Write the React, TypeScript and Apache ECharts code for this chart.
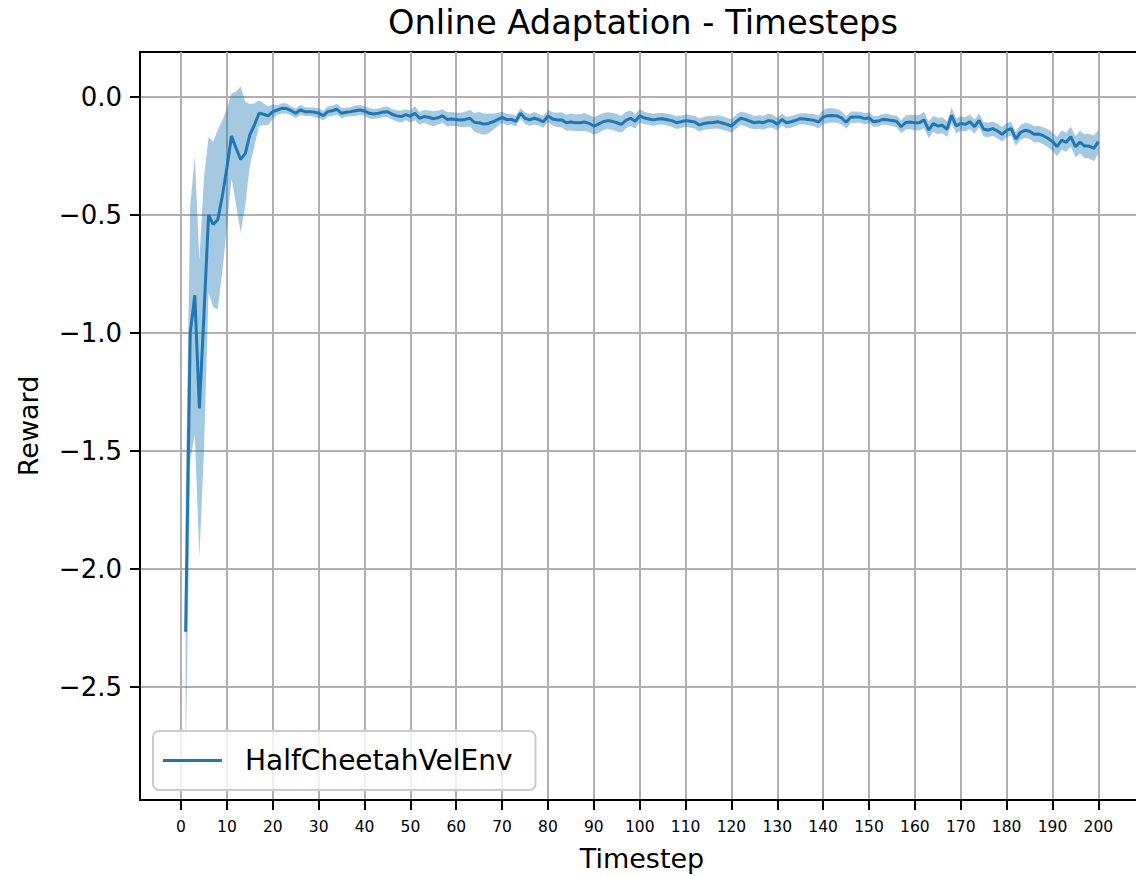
import React, { useEffect, useRef } from "react";
import * as echarts from "echarts";

// Timesteps 1..200
const TIMESTEPS: number[] = Array.from({ length: 200 }, (_, i) => i + 1);

const MEAN_REWARD: number[] = [
  -2.266, -1.0, -0.84, -1.32, -0.92, -0.5, -0.54, -0.52, -0.42, -0.3,
  -0.165, -0.217, -0.264, -0.24, -0.16, -0.118, -0.069, -0.073, -0.08, -0.062,
  -0.055, -0.048, -0.049, -0.058, -0.069, -0.055, -0.062, -0.062, -0.064, -0.069,
  -0.079, -0.062, -0.058, -0.052, -0.069, -0.065, -0.062, -0.058, -0.055, -0.059,
  -0.069, -0.072, -0.069, -0.064, -0.062, -0.073, -0.08, -0.083, -0.075, -0.082,
  -0.069, -0.09, -0.083, -0.086, -0.092, -0.088, -0.08, -0.095, -0.093, -0.095,
  -0.097, -0.095, -0.09, -0.108, -0.109, -0.115, -0.112, -0.105, -0.096, -0.086,
  -0.096, -0.095, -0.103, -0.069, -0.09, -0.097, -0.09, -0.096, -0.105, -0.08,
  -0.093, -0.097, -0.097, -0.109, -0.106, -0.109, -0.109, -0.106, -0.112, -0.123,
  -0.115, -0.105, -0.1, -0.103, -0.109, -0.116, -0.099, -0.09, -0.103, -0.08,
  -0.089, -0.093, -0.097, -0.093, -0.092, -0.096, -0.1, -0.109, -0.105, -0.1,
  -0.103, -0.106, -0.119, -0.112, -0.109, -0.108, -0.105, -0.11, -0.116, -0.123,
  -0.105, -0.09, -0.095, -0.102, -0.109, -0.106, -0.109, -0.1, -0.103, -0.115,
  -0.095, -0.109, -0.105, -0.099, -0.092, -0.093, -0.096, -0.099, -0.106, -0.085,
  -0.079, -0.078, -0.08, -0.088, -0.107, -0.086, -0.085, -0.085, -0.092, -0.088,
  -0.105, -0.102, -0.095, -0.096, -0.1, -0.103, -0.126, -0.108, -0.106, -0.109,
  -0.109, -0.097, -0.14, -0.113, -0.123, -0.12, -0.137, -0.078, -0.123, -0.111,
  -0.116, -0.105, -0.126, -0.099, -0.137, -0.14, -0.134, -0.144, -0.158, -0.141,
  -0.134, -0.178, -0.151, -0.141, -0.145, -0.158, -0.157, -0.164, -0.175, -0.189,
  -0.21, -0.183, -0.192, -0.168, -0.21, -0.191, -0.208, -0.208, -0.218, -0.189,
];

const REWARD_SPREAD: number[] = [
  0.57, 0.54, 0.59, 0.63, 0.58, 0.33, 0.35, 0.38, 0.32, 0.25,
  0.18, 0.24, 0.31, 0.22, 0.13, 0.09, 0.055, 0.045, 0.04, 0.03,
  0.02, 0.022, 0.021, 0.019, 0.02, 0.021, 0.019, 0.018, 0.02, 0.021,
  0.02, 0.022, 0.021, 0.023, 0.021, 0.019, 0.02, 0.022, 0.021, 0.02,
  0.022, 0.021, 0.02, 0.022, 0.023, 0.022, 0.024, 0.025, 0.023, 0.025,
  0.03, 0.028, 0.027, 0.03, 0.032, 0.03, 0.028, 0.03, 0.029, 0.028,
  0.03, 0.032, 0.035, 0.04, 0.045, 0.045, 0.042, 0.035, 0.028, 0.024,
  0.024, 0.022, 0.023, 0.022, 0.024, 0.025, 0.026, 0.024, 0.025, 0.026,
  0.028, 0.03, 0.032, 0.034, 0.036, 0.035, 0.036, 0.038, 0.036, 0.037,
  0.038, 0.036, 0.035, 0.036, 0.037, 0.036, 0.035, 0.033, 0.03, 0.028,
  0.026, 0.025, 0.026, 0.025, 0.024, 0.025, 0.026, 0.027, 0.026, 0.027,
  0.026, 0.027, 0.028, 0.027, 0.028, 0.027, 0.028, 0.029, 0.028, 0.029,
  0.03, 0.028, 0.029, 0.03, 0.028, 0.029, 0.03, 0.029, 0.028, 0.027,
  0.025, 0.024, 0.025, 0.024, 0.023, 0.024, 0.025, 0.026, 0.028, 0.03,
  0.031, 0.03, 0.029, 0.028, 0.026, 0.025, 0.024, 0.023, 0.024, 0.023,
  0.022, 0.023, 0.022, 0.024, 0.023, 0.025, 0.028, 0.03, 0.031, 0.032,
  0.033, 0.034, 0.035, 0.034, 0.035, 0.034, 0.033, 0.034, 0.032, 0.031,
  0.03, 0.031, 0.03, 0.029, 0.03, 0.031, 0.03, 0.032, 0.031, 0.03,
  0.029, 0.03, 0.031, 0.032, 0.033, 0.034, 0.035, 0.036, 0.038, 0.04,
  0.041, 0.042, 0.04, 0.043, 0.045, 0.048, 0.05, 0.052, 0.055, 0.05,
];

const X_TICKS: number[] = [0, 10, 20, 30, 40, 50, 60, 70, 80, 90, 100, 110, 120, 130, 140, 150, 160, 170, 180, 190, 200];
const Y_TICKS: number[] = [0, -0.5, -1.0, -1.5, -2.0, -2.5];

const SERIES_NAME = "HalfCheetahVelEnv";
const TITLE = "Online Adaptation - Timesteps";
const X_NAME = "Timestep";
const Y_NAME = "Reward";

const FONT = "DejaVu Sans";

export default function App() {
  const ref = useRef<HTMLDivElement>(null);

  useEffect(() => {
    if (!ref.current) return;
    const chart = echarts.init(ref.current, null, { renderer: "svg" });

    const upper = MEAN_REWARD.map((m, i) => m + REWARD_SPREAD[i]);
    const lower = MEAN_REWARD.map((m, i) => m - REWARD_SPREAD[i]);

    const option: any = {
      animation: false,
      backgroundColor: "#ffffff",
      textStyle: { fontFamily: FONT },
      title: {
        text: TITLE,
        left: 388,
        top: 2,
        padding: 0,
        textStyle: {
          fontFamily: FONT,
          fontSize: 33.7,
          fontWeight: "normal",
          color: "#000",
          lineHeight: 40,
        },
      },
      grid: {
        left: 140,
        top: 52,
        width: 1004,
        height: 748,
        show: true,
        borderColor: "#000",
        borderWidth: 2,
        backgroundColor: "transparent",
        containLabel: false,
        outerBoundsMode: "none",
      },
      legend: {
        data: [{ name: SERIES_NAME, icon: "rect" }],
        left: 153,
        top: 731,
        itemWidth: 59,
        itemHeight: 3,
        itemGap: 0,
        itemStyle: { color: "#1f77b4", borderWidth: 0 },
        lineStyle: { width: 0 },
        backgroundColor: "rgba(255,255,255,0.8)",
        borderColor: "#cccccc",
        borderWidth: 2,
        borderRadius: 6,
        padding: [14, 23, 14, 10],
        textStyle: {
          fontFamily: FONT,
          fontSize: 28,
          color: "#000",
          lineHeight: 31,
          padding: [0, 0, 0, 18],
        },
      },
      xAxis: {
        type: "value",
        min: -8.95,
        max: 209.95,
        splitNumber: 22,
        name: X_NAME,
        nameLocation: "middle",
        nameGap: 42,
        nameTextStyle: { fontFamily: FONT, fontSize: 27, color: "#000", lineHeight: 32 },
        axisLine: { show: true, onZero: false, lineStyle: { color: "#000", width: 2 } },
        axisTick: {
          show: true,
          inside: false,
          length: 10,
          customValues: X_TICKS,
          lineStyle: { color: "#000", width: 2 },
        },
        axisLabel: {
          customValues: X_TICKS,
          fontFamily: FONT,
          fontSize: 15.5,
          lineHeight: 16,
          color: "#000",
          margin: 19,
          formatter: (v: number) => String(v),
        },
        splitLine: {
          show: true,
          lineStyle: { color: "#b0b0b0", width: 2 },
        },
      },
      yAxis: {
        type: "value",
        min: -2.979,
        max: 0.1907,
        splitNumber: 6,
        name: Y_NAME,
        nameLocation: "middle",
        nameRotate: 90,
        nameGap: 96,
        nameTextStyle: { fontFamily: FONT, fontSize: 27, color: "#000", lineHeight: 32 },
        axisLine: { show: true, onZero: false, lineStyle: { color: "#000", width: 2 } },
        axisTick: {
          show: true,
          inside: false,
          length: 10,
          customValues: Y_TICKS,
          lineStyle: { color: "#000", width: 2 },
        },
        axisLabel: {
          customValues: Y_TICKS,
          fontFamily: FONT,
          fontSize: 26,
          color: "#000",
          margin: 18,
          formatter: (v: number) => v.toFixed(1).replace("-", "\u2212"),
        },
        splitLine: {
          show: true,
          lineStyle: { color: "#b0b0b0", width: 2 },
        },
      },
      series: [
        {
          type: "custom",
          name: "band",
          silent: true,
          z: 1,
          data: TIMESTEPS.map((t, i) => [t, upper[i], lower[i]]),
          encode: { x: 0, y: [1, 2] },
          renderItem: (params: any, api: any) => {
            if (params.dataIndex !== 0) return null;
            const top = TIMESTEPS.map((t, i) => api.coord([t, upper[i]]));
            const bottom = TIMESTEPS.map((t, i) => api.coord([t, lower[i]])).reverse();
            return {
              type: "polygon",
              shape: { points: top.concat(bottom) },
              style: { fill: "rgba(31,119,180,0.4)", stroke: null },
            };
          },
        },
        {
          type: "line",
          name: SERIES_NAME,
          z: 3,
          symbol: "none",
          showSymbol: false,
          data: TIMESTEPS.map((t, i) => [t, MEAN_REWARD[i]]),
          lineStyle: { color: "#1f77b4", width: 3 },
          itemStyle: { color: "#1f77b4" },
        },
      ],
    };

    chart.setOption(option);
    return () => chart.dispose();
  }, []);

  return (
    <div
      ref={ref}
      style={{ position: "fixed", left: 0, top: 0, width: 1136, height: 876, background: "#fff" }}
    />
  );
}
